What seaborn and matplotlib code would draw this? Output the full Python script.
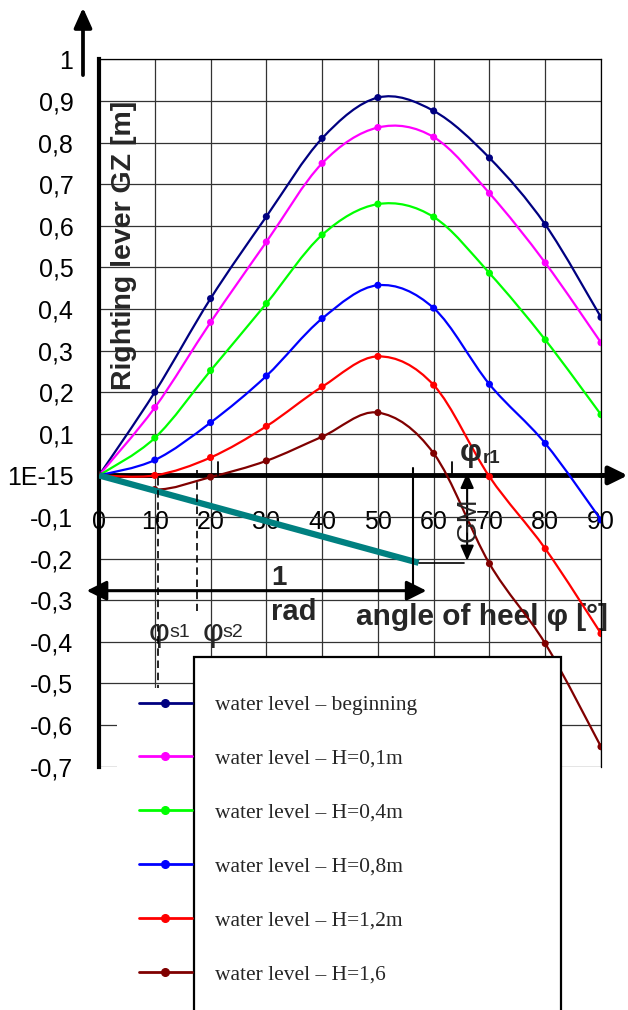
import numpy as np
import pandas as pd
import matplotlib
matplotlib.use('Agg')
import matplotlib.pyplot as plt
from matplotlib.path import Path
from matplotlib.patches import PathPatch, Rectangle
from matplotlib.lines import Line2D
import seaborn as sns

# --- data ---
angles = [0, 10, 20, 30, 40, 50, 60, 70, 80, 90]
gz_beginning = [0, 0.200, 0.425, 0.622, 0.810, 0.908, 0.876, 0.763, 0.603, 0.380]
gz_h01 = [0, 0.163, 0.368, 0.561, 0.750, 0.836, 0.813, 0.678, 0.511, 0.319]
gz_h04 = [0, 0.090, 0.252, 0.413, 0.578, 0.652, 0.621, 0.486, 0.326, 0.146]
gz_h08 = [0, 0.037, 0.127, 0.239, 0.377, 0.457, 0.402, 0.219, 0.077, -0.107]
gz_h12 = [0, 0.000, 0.043, 0.118, 0.213, 0.286, 0.217, -0.003, -0.176, -0.380]
gz_h16 = [0, -0.034, -0.004, 0.035, 0.093, 0.151, 0.053, -0.212, -0.404, -0.652]

series_labels = ['water level – beginning', 'water level – H=0,1m',
                 'water level – H=0,4m', 'water level – H=0,8m',
                 'water level – H=1,2m', 'water level – H=1,6']
series_values = [gz_beginning, gz_h01, gz_h04, gz_h08, gz_h12, gz_h16]
series_colors = ['#000080', '#FF00FF', '#00FF00', '#0000FF', '#FF0000', '#800000']

y_ticks = [-0.7, -0.6, -0.5, -0.4, -0.3, -0.2, -0.1, 0.0,
           0.1, 0.2, 0.3, 0.4, 0.5, 0.6, 0.7, 0.8, 0.9, 1.0]
y_tick_labels = ['-0,7', '-0,6', '-0,5', '-0,4', '-0,3', '-0,2', '-0,1', '1E-15',
                 '0,1', '0,2', '0,3', '0,4', '0,5', '0,6', '0,7', '0,8', '0,9', '1']

# construction values (degrees / metres)
one_rad = 57.3
gm = 0.21
phi_s1 = 10.6
phi_s2 = 17.5
gm_arrow_x = 66.0
crossings = [21.4, 63.3]

df = pd.DataFrame({
    'angle': angles * len(series_labels),
    'gz': sum(series_values, []),
    'series': [lab for lab in series_labels for _ in angles],
})

sns.set_style('white')
plt.rcParams['font.family'] = ['Liberation Sans', 'DejaVu Sans']

W, H = 628, 1010
fig = plt.figure(figsize=(W / 100, H / 100), dpi=100)
ax = fig.add_axes([99 / W, 1 - 766.7 / H, (601 - 99) / W, (766.7 - 59.3) / H])


def smooth_path(xs, ys):
    # Excel-like smoothed line: cubic bezier through the points
    pts = np.column_stack([xs, ys]).astype(float)
    n = len(pts)
    verts = [pts[0]]
    codes = [Path.MOVETO]
    for i in range(n - 1):
        p0 = pts[max(i - 1, 0)]
        p1 = pts[i]
        p2 = pts[i + 1]
        p3 = pts[min(i + 2, n - 1)]
        verts += [p1 + (p2 - p0) / 6, p2 - (p3 - p1) / 6, p2]
        codes += [Path.CURVE4] * 3
    return Path(verts, codes)


for vals, col in zip(series_values, series_colors):
    ax.add_patch(PathPatch(smooth_path(angles, vals), facecolor='none',
                           edgecolor=col, lw=1.6, zorder=3))

sns.scatterplot(data=df, x='angle', y='gz', hue='series', hue_order=series_labels,
                palette=series_colors, s=26, linewidth=0, legend=False,
                zorder=4, ax=ax)

ax.set_xlim(0, 90)
ax.set_ylim(-0.7, 1.0)
ax.set_xticks(angles)
ax.set_xticklabels([str(a) for a in angles])
ax.set_yticks(y_ticks)
ax.set_yticklabels(y_tick_labels)
ax.grid(True, color='#333333', lw=0.9)
ax.set_axisbelow(True)

ax.spines['left'].set_linewidth(3)
ax.spines['bottom'].set_position(('data', 0))
ax.spines['bottom'].set_linewidth(3.5)
for s in ['top', 'right']:
    ax.spines[s].set_linewidth(0.9)
for s in ax.spines.values():
    s.set_color('black')

ax.tick_params(axis='y', direction='out', length=4.5, width=2.7, pad=14,
               labelsize=18, colors='black')
ax.tick_params(axis='x', direction='out', length=3, width=3, pad=22,
               labelsize=18, colors='black')

ax.set_ylabel('Righting lever GZ [m]', fontsize=20.5, fontweight='bold', va='center')
ax.yaxis.set_label_coords((124 - 99) / 502, (766.7 - 245) / 707.4)
ax.set_xlabel('angle of heel φ [°]', fontsize=21.5, fontweight='bold',
              ha='left', va='baseline')
ax.xaxis.set_label_coords((356 - 99) / 502, (766.7 - 625) / 707.4)

# axis arrows
ax.annotate('', xy=(-2.87, 1.124), xytext=(-2.87, 0.962), annotation_clip=False,
            arrowprops=dict(arrowstyle='-|>,head_length=0.6,head_width=0.27',
                            lw=2.7, color='black', shrinkA=0, shrinkB=0,
                            mutation_scale=20))
ax.annotate('', xy=(94.8, 0), xytext=(90, 0), annotation_clip=False,
            arrowprops=dict(arrowstyle='-|>,head_length=0.55,head_width=0.27',
                            lw=3.5, color='black', shrinkA=0, shrinkB=0,
                            mutation_scale=20))

# GM tangent and 1 rad construction
ax.plot([0, one_rad], [0, -gm], color='#008080', lw=4.5, solid_capstyle='butt',
        zorder=6)
ax.plot([one_rad, 65.5], [-gm, -gm], color='black', lw=1.2, zorder=6)
ax.plot([56.3, 56.3], [0.017, -0.277], color='black', lw=1.5, zorder=6)
ax.annotate('', xy=(58.7, -0.277), xytext=(-2.2, -0.277), annotation_clip=False,
            arrowprops=dict(arrowstyle='<|-|>,head_length=0.6,head_width=0.3',
                            lw=2.2, color='black', shrinkA=0, shrinkB=0,
                            mutation_scale=20), zorder=6)
ax.annotate('', xy=(gm_arrow_x, 0.006), xytext=(gm_arrow_x, -0.205),
            annotation_clip=False,
            arrowprops=dict(arrowstyle='<|-|>,head_length=0.45,head_width=0.2',
                            lw=1.5, color='black', shrinkA=0, shrinkB=0,
                            mutation_scale=20), zorder=6)
for cx in crossings:
    ax.plot([cx, cx], [0, 0.032], color='black', lw=1.3, zorder=6)
ax.plot([phi_s1, phi_s1], [-0.007, -0.55], color='black', lw=1.2,
        ls=(0, (4.5, 2.8)), zorder=6, clip_on=False)
ax.plot([phi_s2, phi_s2], [0.013, -0.325], color='black', lw=1.2,
        ls=(0, (4.5, 2.8)), zorder=6)

ax.text(32.3, -0.263, '1', fontsize=20, fontweight='bold', ha='center', va='baseline')
ax.text(35.0, -0.347, 'rad', fontsize=21, fontweight='bold', ha='center', va='baseline')
ax.text(66.2, -0.107, 'GM', fontsize=20, rotation=90, ha='center', va='center', zorder=7)
ax.text(66.6, 0.053, 'φ', fontsize=22, fontweight='bold', ha='center', va='center')
ax.text(68.8, 0.030, 'r1', fontsize=13.5, fontweight='bold', ha='left', va='baseline')
ax.text(10.75, -0.378, 'φ', fontsize=23, ha='center', va='center', clip_on=False)
ax.text(12.6, -0.388, 's1', fontsize=14, ha='left', va='baseline')
ax.text(20.44, -0.378, 'φ', fontsize=23, ha='center', va='center')
ax.text(22.1, -0.388, 's2', fontsize=14, ha='left', va='baseline')

# legend area
fig.add_artist(Rectangle((117 / W, 0), (195 - 117) / W, (H - 688) / H,
                         transform=fig.transFigure, facecolor='white',
                         edgecolor='none', zorder=1))
fig.add_artist(Rectangle((194.3 / W, -0.02), (561.4 - 194.3) / W, (H - 657.3) / H + 0.02,
                         transform=fig.transFigure, facecolor='white',
                         edgecolor='black', lw=1.6, zorder=1.1))
handles = [Line2D([], [], color=c, lw=2, marker='o', markersize=5.5)
           for c in series_colors]
fig.legend(handles, series_labels, loc='upper left',
           bbox_to_anchor=(139 / W, 1 - 695 / H), frameon=False,
           prop={'family': 'Liberation Serif', 'size': 15.5},
           handlelength=2.45, handletextpad=1.1, labelspacing=1.57,
           borderpad=0, borderaxespad=0)

fig.savefig('out.png', dpi=100)
